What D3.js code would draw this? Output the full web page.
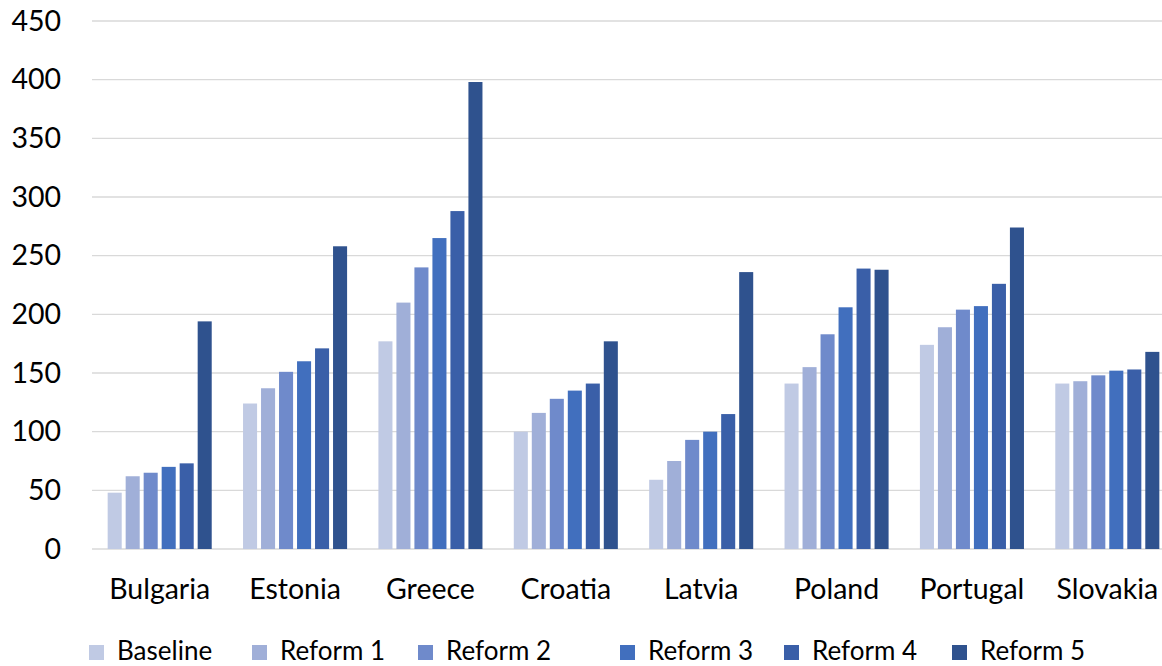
<!DOCTYPE html>
<html>
<head>
<meta charset="utf-8">
<script src="https://cdn.jsdelivr.net/npm/d3@7"></script>
<style>
  html, body { margin: 0; padding: 0; background: #fff; }
  svg { display: block; }
  text { font-family: Lato, "Open Sans", sans-serif; fill: #000; }
</style>
</head>
<body>
<svg id="chart" width="1162" height="666"></svg>
<script>
// Countries along the x axis
const countries = ["Bulgaria", "Estonia", "Greece", "Croatia", "Latvia", "Poland", "Portugal", "Slovakia"];

// Scenario names (one bar per scenario inside each country)
const scenarios = ["Baseline", "Reform 1", "Reform 2", "Reform 3", "Reform 4", "Reform 5"];

// Values per scenario, in country order
const baseline = [48, 124, 177, 100, 59, 141, 174, 141];
const reform1  = [62, 137, 210, 116, 75, 155, 189, 143];
const reform2  = [65, 151, 240, 128, 93, 183, 204, 148];
const reform3  = [70, 160, 265, 135, 100, 206, 207, 152];
const reform4  = [73, 171, 288, 141, 115, 239, 226, 153];
const reform5  = [194, 258, 398, 177, 236, 238, 274, 168];

// Y axis ticks
const yTicks = [0, 50, 100, 150, 200, 250, 300, 350, 400, 450];

const seriesValues = [baseline, reform1, reform2, reform3, reform4, reform5];
const colors = ["#c0cae4", "#a0afd8", "#6f8acb", "#416fbe", "#3a5fa8", "#2f528e"];

const svg = d3.select("#chart");

const plot = { left: 92, right: 1175, top: 21, bottom: 549 };

const x0 = d3.scaleBand()
  .domain(countries)
  .range([plot.left, plot.right])
  .padding(0);

const x1 = d3.scaleBand()
  .domain(scenarios)
  .range([0, x0.bandwidth()])
  .paddingInner(0.22)
  .paddingOuter(0.87);

const y = d3.scaleLinear()
  .domain([0, 450])
  .range([plot.bottom, plot.top]);

const color = d3.scaleOrdinal().domain(scenarios).range(colors);

// Horizontal gridlines
svg.append("g")
  .selectAll("line")
  .data(yTicks)
  .join("line")
  .attr("x1", plot.left)
  .attr("x2", 1162)
  .attr("y1", d => y(d))
  .attr("y2", d => y(d))
  .attr("stroke", "#d9d9d9")
  .attr("stroke-width", 1.4);

// Y axis labels
const yAxis = svg.append("g")
  .attr("transform", `translate(${plot.left},0)`)
  .call(d3.axisLeft(y).tickValues(yTicks).tickSize(0).tickPadding(31));
yAxis.select(".domain").remove();
yAxis.selectAll("text")
  .attr("font-size", "28.5px")
  .attr("font-family", "Lato, 'Open Sans', sans-serif")
  .attr("fill", "#000");

// Bars
const rows = countries.map((c, i) => ({
  country: c,
  values: scenarios.map((s, j) => ({ scenario: s, value: seriesValues[j][i] }))
}));

svg.append("g")
  .selectAll("g")
  .data(rows)
  .join("g")
  .attr("transform", d => `translate(${x0(d.country)},0)`)
  .selectAll("rect")
  .data(d => d.values)
  .join("rect")
  .attr("x", d => x1(d.scenario))
  .attr("width", x1.bandwidth())
  .attr("y", d => y(d.value))
  .attr("height", d => y(0) - y(d.value))
  .attr("fill", d => color(d.scenario));

// X axis labels
const xAxis = svg.append("g")
  .attr("transform", `translate(0,${plot.bottom})`)
  .call(d3.axisBottom(x0).tickSize(0).tickPadding(30));
xAxis.select(".domain").remove();
xAxis.selectAll("text")
  .attr("font-size", "28.5px")
  .attr("font-family", "Lato, 'Open Sans', sans-serif")
  .attr("fill", "#000");

// Legend
const legendX = [89, 252, 418, 620, 784, 952];
const legend = svg.append("g")
  .selectAll("g")
  .data(scenarios)
  .join("g")
  .attr("transform", (d, i) => `translate(${legendX[i]},645)`);

legend.append("rect")
  .attr("width", 15)
  .attr("height", 15)
  .attr("fill", d => color(d));

legend.append("text")
  .attr("x", 28)
  .attr("y", 14.5)
  .attr("font-size", "26px")
  .text(d => d);
</script>
</body>
</html>
